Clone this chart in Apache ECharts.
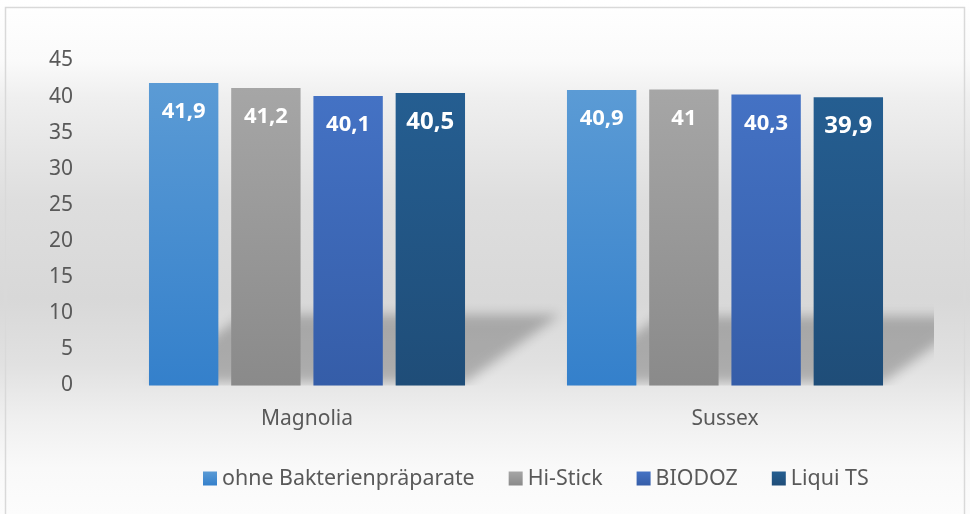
<!DOCTYPE html>
<html>
<head>
<meta charset="utf-8">
<script src="https://cdn.jsdelivr.net/npm/echarts@6/dist/echarts.min.js"></script>
<style>
html,body{margin:0;padding:0;background:#fff;}
#chart{width:970px;height:514px;background:linear-gradient(to bottom,#ffffff 0%,#fafafa 12%,#efefef 19%,#dedede 39%,#d8d8d8 58%,#e1e1e1 71%,#efefef 81%,#f9f9f9 91%,#fcfcfc 100%);}
</style>
</head>
<body>
<div id="chart"></div>
<script>
const categories = ['Magnolia', 'Sussex'];
const seriesNames = ['ohne Bakterienpräparate', 'Hi-Stick', 'BIODOZ', 'Liqui TS'];
const ohneBakterien = [41.9, 40.9];
const hiStick = [41.2, 41];
const biodoz = [40.1, 40.3];
const liquiTS = [40.5, 39.9];
const yTicks = [0, 5, 10, 15, 20, 25, 30, 35, 40, 45];

const values = [ohneBakterien, hiStick, biodoz, liquiTS];
const colors = [
  ['#5b9bd5', '#3480cb'],
  ['#a6a6a6', '#8a8a8a'],
  ['#4472c4', '#355da8'],
  ['#255e91', '#1f4d78']
];
const labelSizes = [22, 22, 22, 24];
const FONT = 'Noto Sans';

const grad = (c) => new echarts.graphic.LinearGradient(0, 0, 0, 1, [
  {offset: 0, color: c[0]}, {offset: 1, color: c[1]}
]);

const shadowData = categories.map((c, i) => [i, Math.max(...values.map(v => v[i]))]);

const chart = echarts.init(document.getElementById('chart'));
const barSeries = seriesNames.map((name, k) => ({
  name: name,
  type: 'bar',
  data: values[k],
  barWidth: '16.6%',
  barGap: '18.5%',
  z: 3,
  itemStyle: {color: grad(colors[k])},
  label: {
    show: true,
    position: 'insideTop',
    distance: 29 - labelSizes[k] / 2,
    color: '#ffffff',
    fontFamily: FONT,
    fontWeight: 'bold',
    fontSize: labelSizes[k],
    lineHeight: labelSizes[k],
    formatter: p => String(p.value).replace('.', ',')
  }
}));

const OFF = 3000;

chart.setOption({
  animation: false,
  textStyle: {fontFamily: FONT},
  grid: {left: 98, right: 36, top: 60.5, bottom: 128.5},
  xAxis: {
    type: 'category',
    data: categories,
    axisLine: {show: false},
    axisTick: {show: false},
    axisLabel: {color: '#595959', fontSize: 21, lineHeight: 22, margin: 23, fontFamily: FONT}
  },
  yAxis: {
    type: 'value',
    min: yTicks[0],
    max: yTicks[yTicks.length - 1],
    interval: 5,
    axisLine: {show: false},
    axisTick: {show: false},
    splitLine: {show: false},
    axisLabel: {color: '#595959', fontSize: 21, margin: 25, fontFamily: FONT}
  },
  legend: {
    data: seriesNames,
    left: 198,
    top: 463,
    icon: 'rect',
    itemWidth: 14,
    itemHeight: 14,
    itemGap: 34,
    textStyle: {color: '#595959', fontSize: 21.4, fontFamily: FONT}
  },
  graphic: [{
    type: 'rect',
    silent: true,
    z: -1,
    shape: {x: 5.5, y: 7.5, width: 959, height: 520},
    style: {fill: 'none', stroke: '#d9d9d9', lineWidth: 1.5}
  }],
  series: [{
    type: 'custom',
    silent: true,
    z: 1,
    clip: true,
    data: shadowData,
    renderItem: function (params, api) {
      const cat = api.value(0);
      const v = api.value(1);
      const base = api.coord([cat, 0]);
      const top = api.coord([cat, v]);
      const catW = api.size([1, 0])[0];
      const gw = catW * 0.756;
      const l = base[0] - gw / 2, r = base[0] + gw / 2;
      const h = base[1] - top[1];
      const dy = h * 0.225, dx = h * 0.315;
      const b = base[1] - 3;
      return {
        type: 'polygon',
        shape: {points: [[l - OFF, b], [r - OFF, b], [r + dx - OFF, b - dy], [l + dx - OFF, b - dy]]},
        style: {
          fill: '#000',
          shadowBlur: 12,
          shadowOffsetX: OFF,
          shadowColor: 'rgba(0,0,0,0.24)'
        }
      };
    }
  }].concat(barSeries)
});
</script>
</body>
</html>
